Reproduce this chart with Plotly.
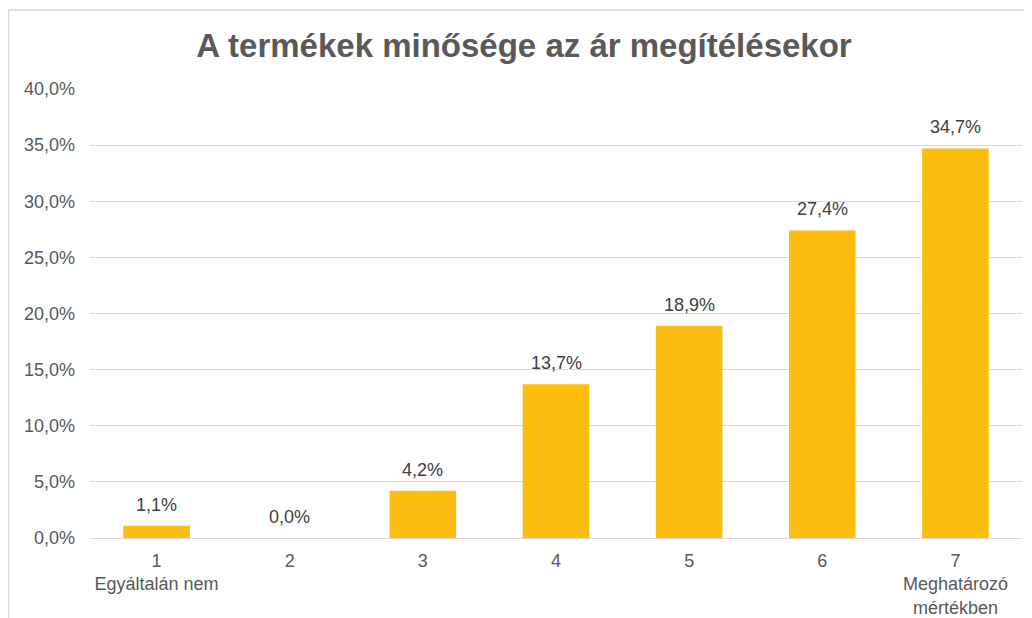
import plotly.graph_objects as go

# Adatok
categories = ["1<br>Egyáltalán nem", "2", "3", "4", "5", "6", "7<br>Meghatározó<br>mértékben"]
values = [1.1, 0.0, 4.2, 13.7, 18.9, 27.4, 34.7]
y_ticks = [0, 5, 10, 15, 20, 25, 30, 35, 40]
y_tick_text = [f"{v:.1f}%".replace(".", ",") for v in y_ticks]

FONT = "Liberation Sans, Arial"

fig = go.Figure()

fig.add_trace(go.Bar(
    x=categories,
    y=values,
    width=0.5,
    marker=dict(color="#FBBE0E", line=dict(width=0)),
    hovertemplate="%{y:.1f}%<extra></extra>",
))

# adatfeliratok kicsit feljebb, mint a plotly alapértelmezése
# (kategóriatengelyen az x index szerint)
for i, val in enumerate(values):
    fig.add_annotation(
        x=i, y=val,
        text=f"{val:.1f}%".replace(".", ","),
        showarrow=False,
        yanchor="bottom",
        yshift=9,
        font=dict(family=FONT, size=18, color="#404040"),
    )

# a böngésző 8 px-es body margója miatt a margók ennyivel kisebbek
fig.update_layout(
    width=1032,
    height=618,
    separators=", ",
    paper_bgcolor="white",
    plot_bgcolor="white",
    showlegend=False,
    margin=dict(l=82, r=18, t=81, b=88),
    title=dict(
        text="<b>A termékek minősége az ár megítélésekor</b>",
        x=0.5, xanchor="center",
        y=0.94, yanchor="middle",
        font=dict(family=FONT, size=33, color="#595959"),
    ),
    xaxis=dict(
        tickfont=dict(family=FONT, size=18, color="#595959"),
        showgrid=False,
        showline=False,
        ticks="",
        ticklabelstandoff=10,
        automargin=False,
    ),
    yaxis=dict(
        range=[0, 40],
        tickvals=y_ticks,
        ticktext=y_tick_text,
        tickfont=dict(family=FONT, size=18, color="#595959"),
        showgrid=True,
        gridcolor="#D9D9D9",
        gridwidth=1.3,
        zeroline=True,
        zerolinecolor="#D9D9D9",
        zerolinewidth=1.3,
        ticks="",
        ticklabelstandoff=14,
        automargin=False,
    ),
    shapes=[dict(
        type="rect", xref="paper", yref="paper",
        x0=-0.0874, x1=1.05, y0=-0.3, y1=1.176,
        line=dict(color="#D9D9D9", width=1.5),
        layer="below",
    )],
)

fig.write_html("out.html")
